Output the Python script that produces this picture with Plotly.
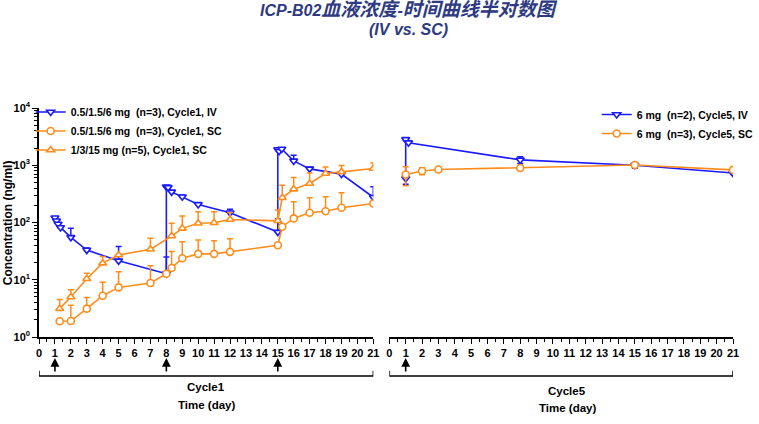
import plotly.graph_objects as go

BLUE = "#1a1aff"
ORANGE = "#ff8c1a"
TITLE_COLOR = "#2d3a82"
SANS = "Liberation Sans, Arial, Noto Sans CJK SC, sans-serif"

# ---------------- Cycle 1 ----------------
c1_iv_t = [1.0, 1.1, 1.2, 1.35, 2, 3, 5, 8, 8.0, 8.11, 8.33, 9, 10, 12, 15, 15.0, 15.08, 15.25, 16, 17, 19, 21]
c1_iv_v = [121, 107, 94, 82, 55, 33, 21.4, 12.7, 420, 410, 343, 281, 207, 148, 68, 1880, 1760, 1920, 1190, 865, 700, 276]
c1_iv_err = [0, 0, 0, 0, 24, 3, 16.6, 12.3, 0, 0, 0, 20, 15, 22, 47, 0, 0, 80, 300, 60, 40, 144]

c1_sc_t = [1.3, 2, 3, 4, 5, 7, 8, 8.33, 9, 10, 11, 12, 15, 15.28, 16, 17, 18, 19, 21]
c1_sc_v = [1.88, 1.9, 3.13, 5.27, 7.35, 8.75, 12.7, 16, 23.8, 28.3, 28.3, 30.7, 40, 84.5, 118, 148, 157, 181, 215]
c1_sc_err = [0, 1.67, 1.77, 3.73, 6.45, 8.75, 0, 15, 22.2, 21.3, 19.7, 21.3, 0, 0, 112, 122, 124, 149, 0]

c1_hi_t = [1.3, 2, 3, 4, 5, 7, 8.33, 9, 10, 11, 12, 15, 15.28, 16, 17, 18, 19, 21]
c1_hi_v = [3.13, 5.0, 10.4, 19.5, 27, 34, 58, 79, 97, 99, 113, 107, 270, 383, 480, 718, 765, 875]
c1_hi_err = [1.37, 1.7, 2.6, 5.9, 0, 19, 39, 51, 57, 55, 37, 58, 177, 228, 254, 215, 223, 222]

# ---------------- Cycle 5 ----------------
c5_iv_t = [1.0, 1.0, 1.17, 8, 15, 21]
c5_iv_v = [587, 2830, 2480, 1240, 1000, 730]
c5_iv_err = [120, 150, 0, 170, 110, 40]

c5_sc_t = [1, 2, 3, 8, 15, 21]
c5_sc_v = [689, 795, 842, 897, 1010, 830]
c5_sc_err = [250, 110, 70, 80, 80, 40]

names = [
    "0.5/1.5/6 mg  (n=3), Cycle1, IV",
    "0.5/1.5/6 mg  (n=3), Cycle1, SC",
    "1/3/15 mg (n=5), Cycle1, SC",
    "6 mg  (n=2), Cycle5, IV",
    "6 mg  (n=3), Cycle5, SC",
]

cycle1_doses = [1, 8, 15]
cycle5_doses = [1]

fig = go.Figure()


def add(t, v, err, name, color, symbol, xa, ya, legend, symmetric):
    ey = dict(type="data", array=err, color=color, thickness=1.5, width=3, visible=True)
    if symmetric:
        ey["symmetric"] = True
    else:
        ey["symmetric"] = False
        ey["arrayminus"] = [0] * len(err)
    fig.add_trace(go.Scatter(
        x=t, y=v, name=name, mode="lines+markers", xaxis=xa, yaxis=ya, legend=legend,
        line=dict(color=color, width=1.6),
        marker=dict(symbol=symbol, size=7, color="white", line=dict(color=color, width=1.6)),
        error_y=ey,
    ))


add(c1_iv_t, c1_iv_v, c1_iv_err, names[0], BLUE, "triangle-down", "x", "y", "legend", False)
add(c1_sc_t, c1_sc_v, c1_sc_err, names[1], ORANGE, "circle", "x", "y", "legend", False)
add(c1_hi_t, c1_hi_v, c1_hi_err, names[2], ORANGE, "triangle-up", "x", "y", "legend", False)
add(c5_iv_t, c5_iv_v, c5_iv_err, names[3], BLUE, "triangle-down", "x2", "y2", "legend2", True)
add(c5_sc_t, c5_sc_v, c5_sc_err, names[4], ORANGE, "circle", "x2", "y2", "legend2", True)

tickfont = dict(family=SANS, size=11, color="black", weight="bold")
xcommon = dict(range=[0, 21], dtick=1, tick0=0, showline=True, linecolor="black", linewidth=1.5,
               ticks="outside", ticklen=5, tickwidth=1.2, tickcolor="black", showgrid=False,
               zeroline=False, tickfont=tickfont, tickangle=0,
               minor=dict(dtick=0.5, ticks="outside", ticklen=3, tickwidth=1, tickcolor="black"))

minor_vals = [m * 10 ** e for e in range(0, 4) for m in range(2, 10)]

legfont = dict(family=SANS, size=10.5, color="black", weight="bold")

fig.update_layout(
    width=759, height=424,
    margin=dict(l=39, r=26, t=108, b=87, autoexpand=False),
    paper_bgcolor="white", plot_bgcolor="white",
    showlegend=True,
    xaxis=dict(domain=[0, 0.4817], anchor="y", **xcommon),
    xaxis2=dict(domain=[0.5048, 1.0], anchor="y2", **xcommon),
    yaxis=dict(type="log", range=[0, 4], showline=True, linecolor="black", linewidth=1.5,
               ticks="outside", ticklen=5, tickwidth=1.2, tickcolor="black", showgrid=False,
               zeroline=False,
               tickvals=[1, 10, 100, 1000, 10000],
               ticktext=["10<sup>0</sup>", "10<sup>1</sup>", "10<sup>2</sup>", "10<sup>3</sup>", "10<sup>4</sup>"],
               tickfont=tickfont,
               minor=dict(tickvals=minor_vals, ticks="outside", ticklen=3, tickwidth=1, tickcolor="black")),
    yaxis2=dict(type="log", range=[0, 4], anchor="x2", visible=False, showgrid=False),
    legend=dict(x=-0.012, y=1.046, xanchor="left", yanchor="top", bgcolor="rgba(0,0,0,0)",
                font=legfont, tracegroupgap=0, itemwidth=30),
    legend2=dict(x=0.8036, y=1.035, xanchor="left", yanchor="top", bgcolor="rgba(0,0,0,0)",
                 font=legfont, tracegroupgap=0, itemwidth=30),
)

annotations = []
# title
annotations.append(dict(
    xref="paper", yref="paper", x=0.533, y=1.428, xanchor="center", yanchor="middle", showarrow=False,
    text="ICP-B02<span style='font-size:19px'>血液浓度</span>-<span style='font-size:19px'>时间曲线半对数图</span>",
    font=dict(family=SANS, size=16, color=TITLE_COLOR, weight="bold", style="italic")))
annotations.append(dict(
    xref="paper", yref="paper", x=0.533, y=1.341, xanchor="center", yanchor="middle", showarrow=False,
    text="(IV vs. SC)",
    font=dict(family=SANS, size=16, color=TITLE_COLOR, weight="bold", style="italic")))

# y-axis title
annotations.append(dict(
    xref="paper", yref="paper", x=-0.045, y=0.5, xanchor="center", yanchor="middle", showarrow=False,
    text="Concentration (ng/ml)", textangle=-90,
    font=dict(family=SANS, size=12, color="black", weight="bold")))

# dose arrows
for xr, doses in (("x", cycle1_doses), ("x2", cycle5_doses)):
    for d in doses:
        annotations.append(dict(xref=xr, yref="paper", x=d, y=-0.092, ax=0, ay=15, axref="pixel", ayref="pixel",
                                text="", showarrow=True, arrowhead=2, arrowsize=1.1, arrowwidth=1.6,
                                arrowcolor="black"))

labfont = dict(family=SANS, size=11.5, color="black", weight="bold")
annotations += [
    dict(xref="x", yref="paper", x=10.5, y=-0.217, text="Cycle1", showarrow=False, font=labfont, yanchor="middle"),
    dict(xref="x", yref="paper", x=10.5, y=-0.297, text="Time (day)", showarrow=False, font=labfont, yanchor="middle"),
    dict(xref="x2", yref="paper", x=10.86, y=-0.2345, text="Cycle5", showarrow=False, font=labfont, yanchor="middle"),
    dict(xref="x2", yref="paper", x=10.86, y=-0.309, text="Time (day)", showarrow=False, font=labfont, yanchor="middle"),
]
fig.update_layout(annotations=annotations)

shapes = []
for xr in ("x", "x2"):
    shapes.append(dict(type="path", xref=xr, yref="paper",
                       path="M 0,-0.147 L 0,-0.1703 L 21,-0.1703 L 21,-0.147",
                       line=dict(color="black", width=1.5)))
fig.update_layout(shapes=shapes)

fig.write_html("out.html", config={"displayModeBar": False},
               post_script="document.body.style.margin='0';document.body.style.overflow='hidden';")
